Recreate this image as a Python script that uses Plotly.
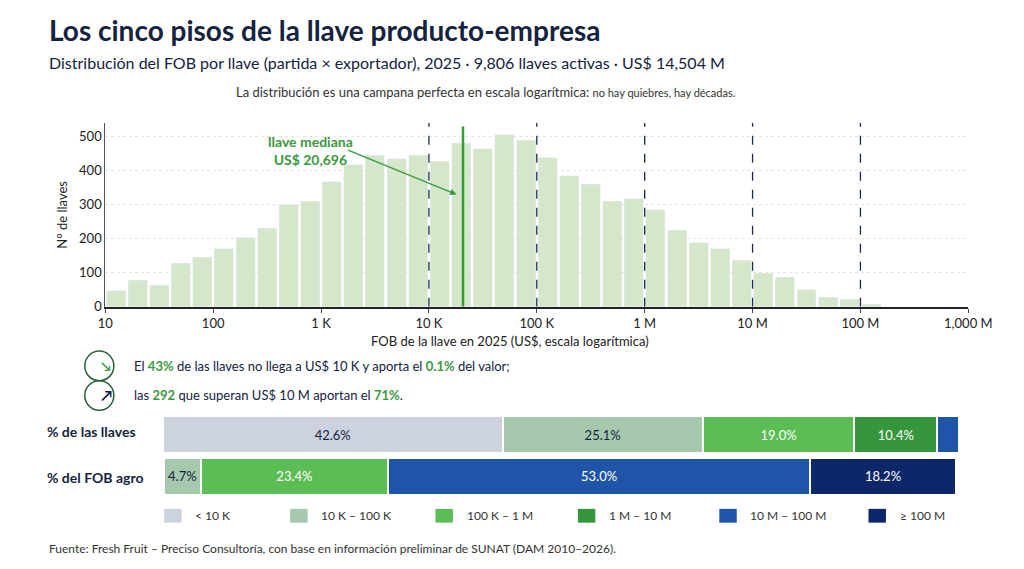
import math
import plotly.graph_objects as go

# histogram: 5 bins per decade on log10 scale starting at 10
bin_start_log = 1.0
bin_width_log = 0.2
counts = [47, 78, 63, 128, 145,
          170, 203, 230, 300, 310,
          368, 418, 445, 435, 445,
          428, 480, 465, 505, 490,
          438, 385, 360, 310, 318,
          285, 225, 188, 170, 136,
          98, 86, 50, 28, 22,
          8]
tick_logs = [1, 2, 3, 4, 5, 6, 7, 8, 9]
tick_labels = ["10", "100", "1 K", "10 K", "100 K", "1 M", "10 M", "100 M", "1,000 M"]
ref_logs = [4, 5, 6, 7, 8]
ref_labels = ["US$ 10 K", "US$ 100 K", "US$ 1 M", "US$ 10 M", "US$ 100 M"]
median_value = 20696

tiers = ["< 10 K", "10 K – 100 K", "100 K – 1 M", "1 M – 10 M", "10 M – 100 M", "≥ 100 M"]
tier_colors = ["#cdd3de", "#a6c9ae", "#5cbd55", "#36963b", "#1f55a8", "#0d2868"]
pct_llaves = [42.6, 25.1, 19.0, 10.4, 2.7, 0.2]
pct_fob = [0.1, 4.7, 23.4, 0.0, 53.0, 18.2]
row_labels = ["% de las llaves", "% del FOB agro"]

NAVY = "#14233f"
GREEN = "#3a9a3e"

x_centers = [bin_start_log + bin_width_log * (i + 0.5) for i in range(len(counts))]

fig = go.Figure()
fig.add_trace(go.Bar(x=x_centers, y=counts, width=bin_width_log * 0.88,
                     marker=dict(color="#d4e7cb"), showlegend=False, hoverinfo="y"))

rows = [row_labels[1], row_labels[0]]
for i, t in enumerate(tiers):
    vals = [pct_fob[i], pct_llaves[i]]
    txt = [f"{v:.1f}%" if v >= 4 else "" for v in vals]
    fig.add_trace(go.Bar(
        y=rows, x=vals, orientation="h", name=t, xaxis="x2", yaxis="y2",
        marker=dict(color=tier_colors[i], line=dict(color="white", width=2)),
        text=txt, textposition="inside", insidetextanchor="middle", textangle=0,
        textfont=dict(size=13, color="white" if i >= 2 else NAVY, family="Lato"),
        showlegend=False))

def px(x): return x / 1024
def py(y): return 1 - y / 569

shapes = []
annotations = []
for lg, lab in zip(ref_logs, ref_labels):
    shapes.append(dict(type="line", xref="x", yref="y", x0=lg, x1=lg, y0=0, y1=555,
                       line=dict(color="#1c2b4a", width=1.3, dash="dash")))
    annotations.append(dict(x=lg, y=560, xref="x", yref="y", text=f"<b>{lab}</b>", showarrow=False,
                            yanchor="bottom", font=dict(size=11, color=NAVY)))
med = math.log10(median_value)
shapes.append(dict(type="line", xref="x", yref="y", x0=med, x1=med, y0=0, y1=530,
                   line=dict(color=GREEN, width=2.5)))
annotations.append(dict(x=med - 0.06, y=330, xref="x", yref="y", ax=-110, ay=-45,
                        text="", showarrow=True, arrowhead=2, arrowcolor=GREEN, arrowwidth=1.3))
annotations.append(dict(x=2.9, y=460, xref="x", yref="y", text="<b>llave mediana<br>US$ 20,696</b>",
                        showarrow=False, font=dict(size=14, color=GREEN), align="center"))

annotations += [
    dict(x=px(32), y=py(22), text="<b>Los cinco pisos de la llave producto-empresa</b>", xanchor="left",
         font=dict(size=28, color=NAVY, family="Lato")),
    dict(x=px(32), y=py(55), text="Distribución del FOB por llave (partida × exportador), 2025 · 9,806 llaves activas · US$ 14,504 M",
         xanchor="left", font=dict(size=16, color=NAVY)),
    dict(x=px(485), y=py(85), text="La distribución es una campana perfecta en escala logarítmica: <span style='font-size:11px'>no hay quiebres, hay décadas.</span>",
         font=dict(size=13, color="#333")),
    dict(x=px(510), y=py(338), text="FOB de la llave en 2025 (US$, escala logarítmica)", font=dict(size=13, color="#222")),
    dict(x=px(120), y=py(363), xanchor="left",
         text=f"El <b><span style='color:{GREEN}'>43%</span></b> de las llaves no llega a US$ 10 K y aporta el <b><span style='color:{GREEN}'>0.1%</span></b> del valor;",
         font=dict(size=13, color=NAVY)),
    dict(x=px(120), y=py(393), xanchor="left",
         text=f"las <b><span style='color:{GREEN}'>292</span></b> que superan US$ 10 M aportan el <b><span style='color:{GREEN}'>71%</span></b>.",
         font=dict(size=13, color=NAVY)),
    dict(x=px(86), y=py(363), text="<b>↘</b>", font=dict(size=13, color=GREEN)),
    dict(x=px(86), y=py(393), text="<b>↗</b>", font=dict(size=15, color=NAVY)),
    dict(x=px(30), y=py(430), xanchor="left", text="<b>% de las llaves</b>", font=dict(size=14, color=NAVY)),
    dict(x=px(30), y=py(476), xanchor="left", text="<b>% del FOB agro</b>", font=dict(size=14, color=NAVY)),
    dict(x=px(32), y=py(548), xanchor="left",
         text="Fuente: Fresh Fruit – Preciso Consultoría, con base en información preliminar de SUNAT (DAM 2010–2026).",
         font=dict(size=12, color="#333")),
]
# custom legend
leg_x = [153, 283, 433, 580, 726, 880]
for i, t in enumerate(tiers):
    shapes.append(dict(type="rect", xref="paper", yref="paper", x0=px(leg_x[i]), x1=px(leg_x[i] + 18),
                       y0=py(522), y1=py(508), fillcolor=tier_colors[i], line=dict(width=0)))
    annotations.append(dict(x=px(leg_x[i] + 30), y=py(515), text=t, xanchor="left",
                            font=dict(size=12, color="#333")))
for a in annotations:
    if "xref" not in a:
        a.update(xref="paper", yref="paper", showarrow=False, yanchor="middle")
for cy in (363, 393):
    shapes.append(dict(type="circle", xref="paper", yref="paper", x0=px(71), x1=px(101),
                       y0=py(cy + 15), y1=py(cy - 15), line=dict(color="#2c5f3a", width=1.5)))

fig.update_layout(
    width=1024, height=569, margin=dict(l=0, r=0, t=0, b=0),
    plot_bgcolor="white", paper_bgcolor="white",
    font=dict(family="Lato", color=NAVY),
    barmode="stack", bargap=0.12, showlegend=False,
    xaxis=dict(domain=[0.09, 0.96], range=[1, 9], tickvals=tick_logs, ticktext=tick_labels,
               showline=True, linecolor="#222", linewidth=2, ticks="outside", ticklen=4,
               showgrid=False, tickfont=dict(size=13, color="#222"), zeroline=False),
    yaxis=dict(domain=[0.4675, 0.795], range=[0, 540], tickvals=[0, 100, 200, 300, 400, 500],
               gridcolor="#e4e4e4", griddash="dot", showline=True, linecolor="#555",
               tickfont=dict(size=13, color="#222"), zeroline=False,
               title=dict(text="N° de llaves", font=dict(size=13, color="#222"), standoff=8)),
    xaxis2=dict(domain=[0.148, 0.952], range=[0, 100], visible=False, anchor="y2"),
    yaxis2=dict(domain=[0.128, 0.277], visible=False, anchor="x2"),
    shapes=shapes, annotations=annotations,
)
fig.write_html("out.html")
